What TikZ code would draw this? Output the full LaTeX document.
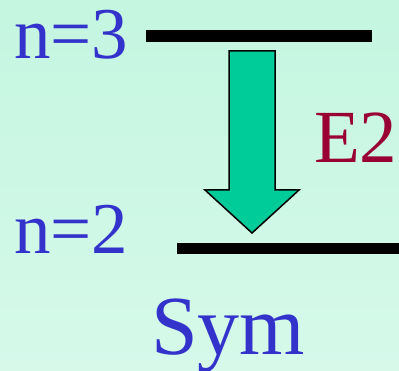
\documentclass[tikz,border=0pt]{standalone}
\usepackage{fontspec}
\setmainfont{Liberation Serif}
\definecolor{lvblue}{HTML}{3333CC}
\definecolor{lvred}{HTML}{990033}
\definecolor{lvgreen}{HTML}{00CC99}
\definecolor{bgtop}{RGB}{196,246,224}
\definecolor{bgbot}{RGB}{214,249,234}
\begin{document}
\begin{tikzpicture}[x=1pt,y=1pt,
  lbl/.style={inner sep=0pt,outer sep=0pt,anchor=base west,text=lvblue},
  level/.style={line width=#1,black},
  transarrow/.style={fill=lvgreen,draw=black,line width=1.5pt,line join=miter}]
\useasboundingbox (0,0) rectangle (399,-371);
\shade[top color=bgtop,bottom color=bgbot] (0,0) rectangle (399,-371);
\node[lbl,font=\fontsize{73}{80}\selectfont] (n3) at (14,-59) {n=3};
\node[lbl,font=\fontsize{73}{80}\selectfont] (n2) at (14,-254) {n=2};
\node[lbl,text=lvred,font=\fontsize{75}{80}\selectfont] (e2) at (314,-163) {E2};
\node[lbl,font=\fontsize{84}{90}\selectfont] (sym) at (151,-355) {Sym};
\coordinate (l3a) at (146,-36);
\coordinate (l3b) at (372,-36);
\coordinate (l2a) at (177,-248.5);
\coordinate (l2b) at (399,-248.5);
\draw[level=12pt] (l3a) -- (l3b);
\draw[level=11pt] (l2a) -- (l2b);
\draw[transarrow] (229,-51) -- (275,-51) -- (275,-190) -- (299,-190) -- (252,-233) -- (205,-190) -- (229,-190) -- cycle;
\end{tikzpicture}
\end{document}
